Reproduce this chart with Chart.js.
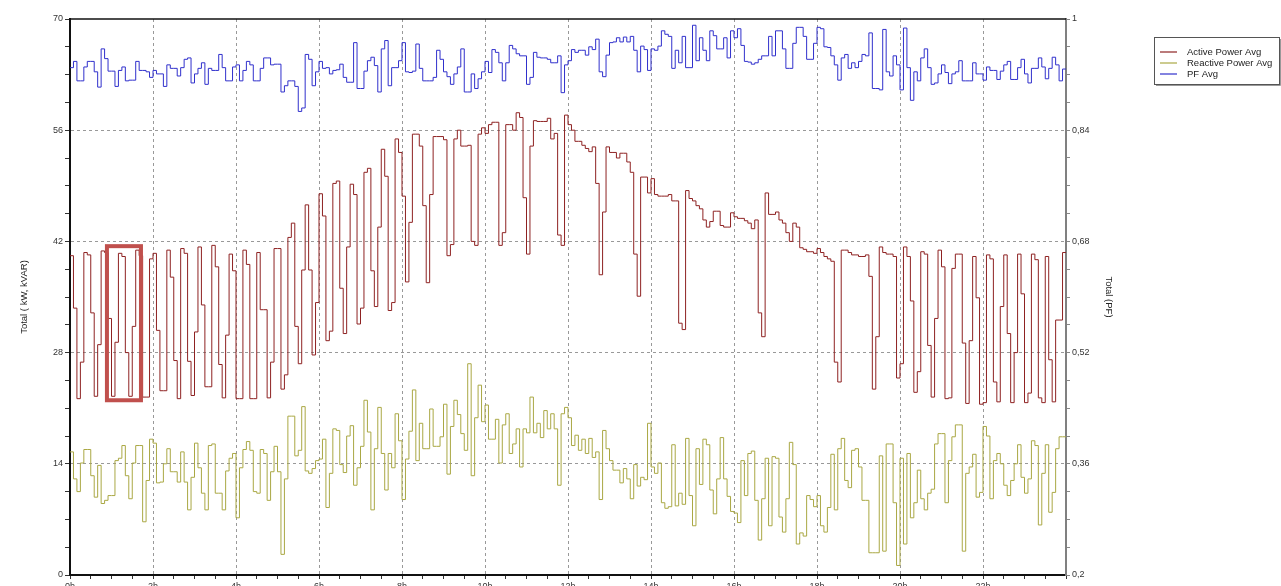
<!DOCTYPE html>
<html lang="en">
<head>
<meta charset="UTF-8">
<title>Daily Power Profile</title>
<script src="https://cdn.jsdelivr.net/npm/chart.js"></script>
<style>
    html, body { margin: 0; padding: 0; background: #fff; overflow: hidden; }
    canvas { display: block; }
</style>
</head>
<body>
<canvas id="power-chart" width="1281" height="600"></canvas>
<script>
// 5-minute averages, one row per hour (00:00 .. 24:00)
const STEP_MIN = 5;

const activePower = [
    40.2,33.6,22.2,26.8,40.6,40.3,33.0,22.5,29.0,40.8,40.6,32.3,
    22.5,29.3,40.5,40.1,28.0,22.5,31.3,40.9,40.2,22.4,22.4,39.8,
    40.5,30.8,23.2,23.2,40.9,37.5,27.0,22.2,41.1,40.5,26.9,22.6,
    30.6,41.3,34.0,23.7,23.7,41.5,38.8,26.5,22.3,30.2,40.4,38.3,
    22.2,22.2,40.9,39.1,22.2,22.2,40.6,33.4,33.4,22.3,26.8,41.1,
    41.1,23.4,25.2,42.5,44.3,31.3,26.6,38.4,46.6,38.4,27.7,34.3,
    48.0,45.2,29.5,30.7,49.3,49.6,36.1,30.4,41.3,49.2,47.9,31.6,
    33.6,50.7,51.2,38.3,33.8,43.8,53.6,50.2,33.3,34.3,54.9,53.2,
    47.7,36.9,44.4,55.5,55.5,54.0,46.5,36.8,47.9,55.2,55.2,55.2,
    54.8,40.2,41.6,54.9,56.0,54.0,54.0,54.1,42.0,41.5,55.5,56.3,
    55.6,56.7,57.0,57.0,41.5,43.1,56.7,56.7,56.0,58.2,57.6,47.5,
    40.4,54.0,57.2,57.1,57.1,57.1,57.5,54.9,55.6,42.8,41.5,57.9,
    56.7,56.0,54.6,54.6,54.1,53.7,53.3,53.9,49.3,37.8,45.7,53.9,
    53.2,53.2,52.5,53.1,53.1,52.0,50.7,40.4,35.1,50.1,50.1,48.1,
    49.9,47.9,47.7,47.7,47.7,47.9,47.1,47.1,31.7,30.9,48.4,47.4,
    47.1,46.5,46.1,44.7,43.8,44.5,45.8,45.8,44.0,43.8,43.8,45.6,
    45.1,44.9,44.9,44.6,44.3,43.6,44.7,33.0,30.0,48.1,45.4,45.4,
    45.7,44.7,44.3,43.1,42.0,44.3,43.8,41.2,41.0,40.7,40.7,40.5,
    41.1,40.6,40.1,39.8,39.5,26.8,24.3,40.9,40.9,40.6,40.3,40.3,
    40.1,40.1,40.3,37.6,23.4,30.0,41.3,40.6,40.4,40.4,40.1,24.8,
    26.6,41.3,40.1,34.5,23.0,25.6,40.7,40.4,28.9,22.4,32.3,40.9,
    38.8,22.2,22.3,38.6,40.4,40.4,29.2,21.6,29.5,40.1,34.9,21.5,
    21.7,40.3,39.8,24.3,21.8,33.8,40.3,30.4,21.7,28.0,40.4,35.4,
    21.7,22.9,40.4,39.7,22.3,21.7,40.1,27.1,21.8,32.1,32.1,40.6
];

const reactivePower = [
    15.5,12.1,10.5,14.1,15.8,15.8,12.5,9.8,13.8,9.0,9.4,10.0,
    10.0,14.4,14.7,16.3,12.5,9.6,14.1,16.3,16.3,6.7,11.9,17.1,
    16.6,11.6,11.7,14.0,15.9,13.0,13.0,11.7,15.5,11.7,8.2,12.3,
    16.6,13.5,10.3,8.2,16.3,16.5,10.3,10.3,8.2,13.1,14.7,15.3,
    7.2,13.5,15.8,16.8,15.7,10.5,10.3,15.8,15.3,9.4,13.0,16.2,
    13.0,2.6,12.1,20.0,20.0,15.0,15.7,21.2,13.1,12.8,13.4,14.4,
    14.6,17.1,8.5,12.8,18.4,18.2,13.9,12.9,17.5,18.8,11.3,13.5,
    16.2,22.0,18.0,8.2,15.9,21.1,15.3,10.7,15.3,13.5,20.3,16.9,
    9.5,14.6,18.1,23.3,14.4,19.1,15.9,15.9,20.9,16.2,16.2,17.4,
    21.5,12.7,18.7,22.0,20.2,17.8,15.7,26.6,12.5,19.8,23.9,19.3,
    21.4,17.1,17.1,19.6,14.1,18.9,20.3,15.3,16.5,18.4,13.6,18.4,
    17.9,22.4,17.9,19.1,17.3,20.7,18.4,20.3,18.4,11.3,20.3,21.1,
    19.8,16.3,17.6,15.7,17.1,15.3,17.2,14.8,15.5,9.5,18.2,15.9,
    14.4,13.2,13.2,11.6,13.4,12.1,9.6,13.9,11.2,12.3,12.0,19.1,
    13.6,12.8,14.1,9.1,8.4,8.6,16.4,8.7,10.3,8.9,17.2,10.0,
    6.2,15.9,11.4,17.1,16.4,10.7,7.7,12.1,17.3,12.1,9.9,8.0,
    7.8,6.6,14.4,10.0,15.3,15.6,9.4,4.4,9.6,14.7,6.2,14.9,
    14.7,7.3,5.4,9.6,16.7,13.9,3.9,5.3,4.9,10.0,9.5,8.6,
    10.0,6.2,5.4,8.5,15.2,8.2,15.9,17.2,11.9,11.0,15.7,15.9,
    13.6,9.4,9.4,2.8,2.8,2.8,15.0,3.0,16.5,16.5,9.1,1.2,
    14.7,3.9,15.3,7.2,9.1,13.2,9.6,8.2,10.3,10.8,16.5,17.8,
    17.8,9.1,14.4,17.4,18.9,18.9,3.0,12.8,13.6,15.2,9.8,10.4,
    18.7,17.5,9.6,14.4,15.3,14.0,11.3,10.0,11.9,14.0,16.4,12.3,
    10.3,12.1,16.9,16.3,6.3,12.8,16.4,7.9,10.4,15.9,17.4,17.4
];

const powerFactor = [
    .930,.939,.911,.911,.931,.939,.939,.924,.902,.957,.943,.925,
    .925,.903,.926,.931,.911,.912,.912,.939,.926,.926,.924,.916,
    .926,.921,.921,.903,.934,.929,.929,.918,.930,.942,.944,.908,
    .921,.929,.937,.906,.929,.926,.926,.949,.930,.911,.911,.931,
    .934,.911,.926,.939,.934,.911,.911,.929,.944,.944,.934,.935,
    .935,.895,.904,.911,.911,.903,.867,.872,.949,.942,.904,.924,
    .939,.929,.930,.921,.926,.927,.935,.916,.909,.909,.966,.900,
    .900,.925,.940,.945,.933,.895,.957,.969,.904,.930,.930,.940,
    .966,.924,.923,.925,.964,.929,.911,.911,.911,.916,.955,.942,
    .924,.917,.906,.921,.931,.957,.895,.895,.921,.900,.914,.924,
    .939,.923,.956,.952,.937,.911,.937,.962,.957,.950,.947,.947,
    .906,.916,.952,.945,.944,.944,.942,.937,.937,.947,.894,.934,
    .940,.956,.952,.955,.955,.948,.960,.956,.971,.924,.917,.948,
    .966,.967,.973,.967,.974,.967,.975,.955,.924,.961,.956,.926,
    .957,.955,.961,.983,.978,.975,.929,.955,.937,.975,.930,.930,
    .991,.940,.973,.955,.940,.983,.976,.957,.957,.973,.944,.983,
    .973,.986,.962,.939,.938,.935,.937,.942,.947,.947,.975,.947,
    .983,.983,.957,.929,.929,.965,.988,.988,.975,.942,.942,.965,
    .988,.986,.960,.959,.947,.934,.912,.944,.949,.929,.937,.930,
    .939,.949,.947,.980,.900,.900,.898,.985,.924,.918,.947,.934,
    .898,.987,.930,.883,.924,.911,.944,.957,.930,.906,.908,.921,
    .934,.923,.907,.921,.924,.940,.911,.911,.911,.937,.921,.921,
    .912,.931,.926,.926,.913,.925,.934,.939,.913,.913,.930,.942,
    .921,.908,.929,.929,.944,.931,.914,.929,.945,.934,.911,.928
];

const hourLabels = ['0h', '2h', '4h', '6h', '8h', '10h', '12h', '14h', '16h', '18h', '20h', '22h'];

// marked interval on the active power trace (hours, kW)
const highlight = { from: 0.89, to: 1.71, low: 22.0, high: 41.4 };

const FONT = { family: '"Liberation Sans", Arial, sans-serif', size: 9 };
const TITLE_FONT = { family: '"Liberation Sans", Arial, sans-serif', size: 9.5 };

// each value holds for its 5 minutes, so close the last step at 24h
function toSteps(values) {
    const pts = values.map((v, i) => ({ x: i * STEP_MIN / 60, y: v }));
    pts.push({ x: 24, y: values[values.length - 1] });
    return pts;
}

const near = (a, b) => Math.abs(a - b) < 1e-6;
const isMajorHour = v => near(v / 2, Math.round(v / 2));
const isMajorKw = v => near(v / 14, Math.round(v / 14));
const isMajorPf = v => near((v - 0.2) / 0.16, Math.round((v - 0.2) / 0.16));

const frame = {
    id: 'frame',
    afterDatasetsDraw(chart) {
        const { ctx, chartArea: a } = chart;
        ctx.save();
        ctx.strokeStyle = '#111';
        ctx.lineWidth = 1.5;
        ctx.beginPath();
        ctx.moveTo(a.left, a.top);
        ctx.lineTo(a.right, a.top);
        ctx.stroke();
        ctx.restore();
    }
};

const highlightBox = {
    id: 'highlightBox',
    afterDatasetsDraw(chart) {
        const { ctx, scales: { x, y } } = chart;
        const x0 = x.getPixelForValue(highlight.from);
        const x1 = x.getPixelForValue(highlight.to);
        const y0 = y.getPixelForValue(highlight.high);
        const y1 = y.getPixelForValue(highlight.low);
        ctx.save();
        ctx.strokeStyle = '#c0504d';
        ctx.lineWidth = 4;
        ctx.strokeRect(x0, y0, x1 - x0, y1 - y0);
        ctx.restore();
    }
};

const legendBox = {
    id: 'legendBox',
    afterDraw(chart) {
        const { ctx } = chart;
        const left = chart.width - 127, top = 37, w = 125, h = 47;
        ctx.save();
        ctx.fillStyle = '#fff';
        ctx.fillRect(left, top, w, h);
        ctx.strokeStyle = '#555';
        ctx.lineWidth = 1;
        ctx.strokeRect(left + 0.5, top + 0.5, w, h);
        ctx.strokeStyle = '#999';
        ctx.beginPath();
        ctx.moveTo(left + w + 1.5, top + 2);
        ctx.lineTo(left + w + 1.5, top + h + 1.5);
        ctx.lineTo(left + 2, top + h + 1.5);
        ctx.stroke();
        ctx.font = `${TITLE_FONT.size}px ${TITLE_FONT.family}`;
        ctx.textBaseline = 'middle';
        chart.data.datasets.forEach((ds, i) => {
            const ty = top + 15 + i * 11;
            ctx.strokeStyle = ds.borderColor;
            ctx.lineWidth = 1.2;
            ctx.beginPath();
            ctx.moveTo(left + 6, ty);
            ctx.lineTo(left + 23, ty);
            ctx.stroke();
            ctx.fillStyle = '#222';
            ctx.fillText(ds.label, left + 33, ty);
        });
        ctx.restore();
    }
};

const ctx = document.getElementById('power-chart').getContext('2d');

new Chart(ctx, {
    type: 'line',
    data: {
        datasets: [
            {
                label: 'Active Power Avg',
                data: toSteps(activePower),
                borderColor: '#8e2222',
                yAxisID: 'y'
            },
            {
                label: 'Reactive Power Avg',
                data: toSteps(reactivePower),
                borderColor: '#aaa844',
                yAxisID: 'y'
            },
            {
                label: 'PF Avg',
                data: toSteps(powerFactor),
                borderColor: '#3030cc',
                yAxisID: 'y2'
            }
        ]
    },
    options: {
        responsive: false,
        animation: false,
        devicePixelRatio: 1,
        layout: { padding: { top: 19, right: 161, bottom: 0, left: 0 } },
        elements: {
            line: { stepped: 'before', borderWidth: 1, tension: 0, fill: false },
            point: { radius: 0, hoverRadius: 0 }
        },
        plugins: {
            legend: { display: false },
            tooltip: { enabled: false }
        },
        scales: {
            x: {
                type: 'linear',
                min: 0,
                max: 24,
                afterFit: s => { s.height = 25; },
                ticks: {
                    stepSize: 0.5,
                    autoSkip: false,
                    maxRotation: 0,
                    padding: 2,
                    color: '#333',
                    font: FONT,
                    callback: v => (isMajorHour(v) && v < 24) ? hourLabels[Math.round(v / 2)] : ''
                },
                grid: {
                    color: c => (c.tick && isMajorHour(c.tick.value) && c.tick.value > 0 && c.tick.value < 24) ? '#999' : 'transparent',
                    tickColor: '#333',
                    tickLength: 4
                },
                border: { color: '#111', width: 2, dash: [3, 3] }
            },
            y: {
                position: 'left',
                min: 0,
                max: 70,
                afterFit: s => { s.width = 70; },
                ticks: {
                    stepSize: 3.5,
                    autoSkip: false,
                    padding: 2,
                    color: '#333',
                    font: FONT,
                    callback: v => isMajorKw(v) ? String(Math.round(v)) : ''
                },
                grid: {
                    color: c => (c.tick && isMajorKw(c.tick.value) && c.tick.value > 0 && c.tick.value < 70) ? '#999' : 'transparent',
                    tickColor: '#333',
                    tickLength: 5
                },
                border: { color: '#111', width: 2, dash: [3, 3] },
                title: {
                    display: true,
                    text: 'Total ( kW, kVAR)',
                    color: '#222',
                    font: TITLE_FONT,
                    padding: { top: 19, bottom: 0 }
                }
            },
            y2: {
                position: 'right',
                min: 0.2,
                max: 1,
                afterFit: s => { s.width = 54; },
                ticks: {
                    stepSize: 0.04,
                    autoSkip: false,
                    padding: 2,
                    color: '#333',
                    font: FONT,
                    callback: v => isMajorPf(v) ? String(Math.round(v * 100) / 100).replace('.', ',') : ''
                },
                grid: {
                    drawOnChartArea: false,
                    tickColor: '#888',
                    tickLength: 4
                },
                border: { color: '#808080', width: 2 },
                title: {
                    display: true,
                    text: 'Total (PF)',
                    color: '#222',
                    font: TITLE_FONT,
                    padding: { top: 6, bottom: 0 }
                }
            }
        }
    },
    plugins: [frame, highlightBox, legendBox]
});
</script>
</body>
</html>
